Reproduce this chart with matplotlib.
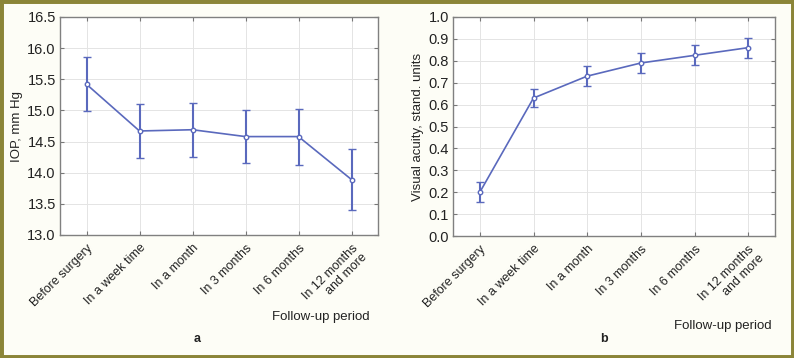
import matplotlib

matplotlib.use("Agg")
import matplotlib.pyplot as plt
from matplotlib.patches import Rectangle

plt.rcParams["font.family"] = ["Liberation Sans", "DejaVu Sans"]

periods = [
    "Before surgery",
    "In a week time",
    "In a month",
    "In 3 months",
    "In 6 months",
    "In 12 months\nand more",
]
iop_mean = [15.42, 14.67, 14.69, 14.58, 14.58, 13.89]
iop_err = [0.43, 0.43, 0.43, 0.43, 0.45, 0.49]
acuity_mean = [0.20, 0.63, 0.73, 0.79, 0.825, 0.86]
acuity_err = [0.045, 0.043, 0.045, 0.045, 0.045, 0.046]

LINE = "#5a69bd"
W, H = 794, 358


def px_axes(fig, left, top, right, bottom):
    return fig.add_axes([left / W, 1 - bottom / H, (right - left) / W, (bottom - top) / H])


def style(ax, means, errs, ylim, yticks, ylabel):
    x = list(range(len(means)))
    ax.errorbar(
        x, means, yerr=errs, color=LINE, lw=1.2, elinewidth=1.5,
        capsize=3, capthick=1.5, marker="o", ms=3.2, mfc="white", mec=LINE, mew=1.0,
    )
    ax.set_xlim(-0.5, len(means) - 0.5)
    ax.set_ylim(*ylim)
    ax.set_yticks(yticks)
    ax.set_yticklabels([f"{t:.1f}" for t in yticks], fontsize=10.5, color="#222222")
    ax.set_xticks(x)
    ax.set_xticklabels(periods, rotation=45, ha="right", va="top",
                       rotation_mode="anchor", fontsize=9, color="#222222",
                       multialignment="right", linespacing=1.15)
    ax.set_ylabel(ylabel, fontsize=9.5, color="#222222", labelpad=3)
    ax.grid(True, color="#e4e4e4", lw=0.7)
    ax.set_axisbelow(True)
    ax.tick_params(direction="in", length=3, color="#777777", top=True, right=True, pad=3)
    ax.tick_params(axis="x", pad=5)
    for sp in ax.spines.values():
        sp.set_color("#808080")
        sp.set_linewidth(1.0)


fig = plt.figure(figsize=(W / 100, H / 100), dpi=100)
fig.patch.set_facecolor("#fdfdf6")
fig.patches.append(Rectangle((0, 0), 1, 1, transform=fig.transFigure, fill=False,
                             edgecolor="#8b8538", linewidth=5))

ax1 = px_axes(fig, 60, 17, 378, 235)
style(ax1, iop_mean, iop_err, (13.0, 16.5), [13.0 + 0.5 * i for i in range(8)], "IOP, mm Hg")

ax2 = px_axes(fig, 453, 17, 775, 236)
style(ax2, acuity_mean, acuity_err, (0.0, 1.0), [0.1 * i for i in range(11)],
      "Visual acuity, stand. units")

fig.text(370 / W, 1 - 317 / H, "Follow-up period", ha="right", va="center", fontsize=9.5, color="#222222")
fig.text(772 / W, 1 - 326 / H, "Follow-up period", ha="right", va="center", fontsize=9.5, color="#222222")
fig.text(197 / W, 1 - 339 / H, "a", ha="center", va="center", fontsize=9, fontweight="bold", color="#222222")
fig.text(604 / W, 1 - 339 / H, "b", ha="center", va="center", fontsize=9, fontweight="bold", color="#222222")

fig.savefig("out.png", dpi=100, facecolor=fig.get_facecolor())
